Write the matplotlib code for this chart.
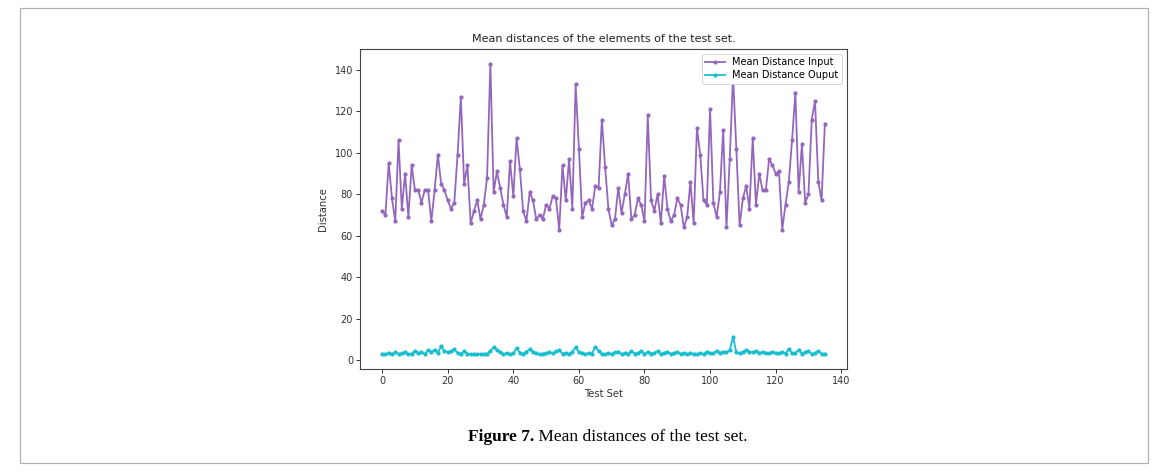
import matplotlib
matplotlib.use("Agg")
import matplotlib.pyplot as plt
from matplotlib.patches import Rectangle

input_dist = [72, 70, 95, 78, 67, 106, 73, 90, 69, 94,
              82, 82, 76, 82, 82, 67, 82, 99, 85, 82,
              77, 73, 76, 99, 127, 85, 94, 66, 72, 77,
              68, 75, 88, 143, 81, 91, 83, 75, 69, 96,
              79, 107, 92, 72, 67, 81, 77, 68, 70, 68,
              75, 73, 79, 78, 63, 94, 77, 97, 73, 133,
              102, 69, 76, 77, 73, 84, 83, 116, 93, 73,
              65, 68, 83, 71, 80, 90, 68, 70, 78, 75,
              67, 118, 77, 72, 80, 66, 89, 73, 67, 70,
              78, 75, 64, 69, 86, 66, 112, 99, 77, 75,
              121, 76, 69, 81, 111, 64, 97, 137, 102, 65,
              78, 84, 73, 107, 75, 90, 82, 82, 97, 94,
              90, 91, 63, 75, 86, 106, 129, 81, 104, 76,
              80, 116, 125, 86, 77, 114]

output_dist = [3.2, 3.0, 3.4, 2.9, 3.8, 3.1, 3.3, 3.9, 3.0, 3.2,
               4.6, 3.5, 3.8, 3.0, 4.8, 4.2, 5.0, 3.6, 6.8, 4.4,
               3.9, 4.3, 5.2, 3.5, 3.0, 4.5, 3.2, 2.8, 3.0, 3.1,
               2.9, 3.0, 3.2, 4.5, 6.3, 5.0, 3.8, 3.0, 3.5, 2.8,
               3.3, 6.0, 3.6, 3.1, 4.2, 5.2, 4.0, 3.5, 2.9, 3.2,
               3.4, 3.9, 3.3, 4.3, 4.8, 3.2, 3.6, 3.0, 4.0, 6.2,
               3.9, 3.4, 3.0, 3.6, 3.2, 6.6, 4.5, 3.2, 2.8, 3.5,
               3.0, 3.8, 4.2, 3.0, 3.4, 3.1, 4.4, 3.2, 3.6, 4.5,
               3.0, 4.0, 3.2, 3.7, 4.3, 3.0, 3.5, 4.2, 3.1, 3.6,
               4.0, 3.2, 3.5, 3.0, 3.3, 3.2, 3.0, 3.4, 3.1, 4.2,
               3.5, 3.3, 4.6, 3.4, 4.2, 3.9, 4.8, 11.3, 3.8, 3.4,
               4.1, 5.0, 4.2, 3.8, 4.3, 3.6, 3.9, 3.5, 3.3, 4.2,
               3.6, 3.4, 3.9, 3.2, 5.3, 3.4, 3.6, 5.0, 3.2, 3.8,
               4.6, 3.0, 3.4, 4.5, 3.1, 3.2]

test_set = list(range(len(input_dist)))

W, H = 1168, 472
fig = plt.figure(figsize=(W / 100, H / 100), dpi=100)

# outer frame of the paper figure
fig.patches.append(Rectangle((20 / W, 1 - 463 / H), 1128 / W, 455 / H,
                             transform=fig.transFigure, fill=False,
                             edgecolor="#b0b0b0", linewidth=0.9))

ax = fig.add_axes([360 / W, 1 - 369 / H, 487 / W, 320 / H])
ax.plot(test_set, input_dist, color="#9467bd", marker=".", markersize=4,
        linewidth=1.3, label="Mean Distance Input")
ax.plot(test_set, output_dist, color="#17becf", marker=".", markersize=4,
        linewidth=1.3, label="Mean Distance Ouput")

ax.set_xticks([0, 20, 40, 60, 80, 100, 120, 140])
ax.set_yticks([0, 20, 40, 60, 80, 100, 120, 140])
ax.tick_params(labelsize=7, length=3, width=0.7, pad=2, colors="#333333")
for s in ax.spines.values():
    s.set_linewidth(0.8)
    s.set_color("#444444")
ax.set_xlabel("Test Set", fontsize=7.2, labelpad=2, color="#333333")
ax.set_ylabel("Distance", fontsize=7.2, labelpad=5, color="#333333")
ax.set_title("Mean distances of the elements of the test set.",
             fontsize=8, pad=5, color="#222222")
leg = ax.legend(loc="upper right", fontsize=7, handlelength=2,
                borderpad=0.35, labelspacing=0.3, framealpha=1)
leg.get_frame().set_linewidth(0.6)

# caption
fig.canvas.draw()
r = fig.canvas.get_renderer()
t1 = fig.text(0, 1 - 437 / H, "Figure 7.", fontsize=12.5, fontweight="bold",
              family="Liberation Serif", va="center", ha="left")
t2 = fig.text(0, 1 - 437 / H, " Mean distances of the test set.", fontsize=12.5,
              family="Liberation Serif", va="center", ha="left")
w1 = t1.get_window_extent(r).width
w2 = t2.get_window_extent(r).width
x0 = 608 - (w1 + w2) / 2
t1.set_x(x0 / W)
t2.set_x((x0 + w1) / W)

fig.savefig("out.png", dpi=100)
